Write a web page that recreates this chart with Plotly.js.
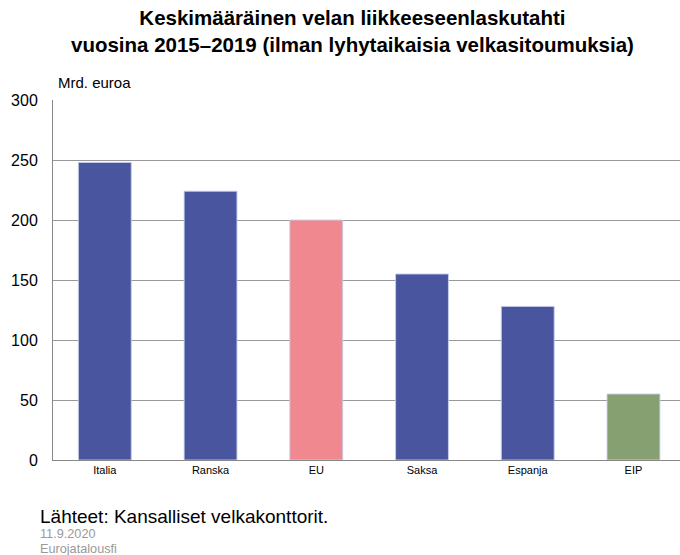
<!DOCTYPE html>
<html><head><meta charset="utf-8">
<script src="https://cdn.plot.ly/plotly-3.0.1.min.js"></script>
<style>body{margin:0;padding:0;background:#fff}#chart{width:680px;height:555px}</style>
</head><body><div id="chart"></div>
<script>
const categories = ["Italia", "Ranska", "EU", "Saksa", "Espanja", "EIP"];
const values = [248, 224, 200, 155, 128, 55];
const barColors = ["#4a55a0", "#4a55a0", "#f0898f", "#4a55a0", "#4a55a0", "#87a072"];
const yTicks = [0, 50, 100, 150, 200, 250, 300];

const trace = {
  type: "bar", x: categories, y: values,
  marker: {color: barColors, line: {color: "rgba(200,205,235,0.9)", width: 1}},
  width: 0.5, hoverinfo: "skip"
};
const font = "Liberation Sans, Arial, sans-serif";
const L = 53, R = 0, T = 100, B = 95;
const pw = 680 - L - R, ph = 555 - T - B;
function px(x){return (x - L)/pw;}
function py(y){return (555 - B - y)/ph;}
const layout = {
  width: 680, height: 555,
  margin: {l: L, r: R, t: T, b: B},
  paper_bgcolor: "#fff", plot_bgcolor: "#fff",
  font: {family: font, color: "#000"},
  showlegend: false,
  xaxis: {range: [-0.49, 5.44], showgrid: false, showline: true, linecolor: "#888", linewidth: 1, ticks: "",
          tickfont: {size: 11, color: "#000"}, fixedrange: true},
  yaxis: {range: [0, 300], tickvals: yTicks, ticks: "", showline: true, linecolor: "#888", linewidth: 1,
          gridcolor: "#999", gridwidth: 1, tickfont: {size: 16, color: "#000"}, ticklabelstandoff: 11,
          zeroline: false, fixedrange: true},
  annotations: [
    {text: "<b>Keskimääräinen velan liikkeeseenlaskutahti<br>vuosina 2015–2019 (ilman lyhytaikaisia velkasitoumuksia)</b>",
     x: px(352), y: py(4), xanchor: "center", yanchor: "top", xref: "paper", yref: "paper", showarrow: false,
     font: {size: 20.5, color: "#000"}},
    {text: "Mrd. euroa", x: px(56), y: py(83), xanchor: "left", yanchor: "middle", xref: "paper", yref: "paper", showarrow: false, font: {size: 15}},
    {text: "Lähteet: Kansalliset velkakonttorit.", x: px(38), y: py(516), xanchor: "left", yanchor: "middle", xref: "paper", yref: "paper", showarrow: false, font: {size: 19}},
    {text: "11.9.2020", x: px(38), y: py(534), xanchor: "left", yanchor: "middle", xref: "paper", yref: "paper", showarrow: false, font: {size: 12.7, color: "#999"}},
    {text: "Eurojatalousfi", x: px(38), y: py(549), xanchor: "left", yanchor: "middle", xref: "paper", yref: "paper", showarrow: false, font: {size: 12.7, color: "#999"}}
  ]
};
Plotly.newPlot("chart", [trace], layout, {staticPlot: true, displayModeBar: false});
</script></body></html>
